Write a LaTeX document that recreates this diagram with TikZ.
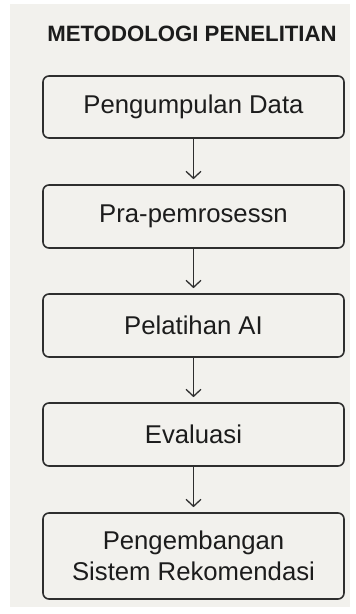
\documentclass[tikz,border=0pt]{standalone}
\usepackage{fontspec}
\setmainfont{Liberation Sans}
\usetikzlibrary{arrows.meta}
\definecolor{panel}{HTML}{F2F1ED}
\definecolor{ink}{HTML}{1C1C1C}
\definecolor{edge}{HTML}{2E2E2E}
\tikzset{
  stepbox/.style={draw=edge, line width=1.6pt, rounded corners=6pt, fill=panel,
    minimum width=301pt, text=ink, font=\fontsize{25.7}{31}\selectfont, align=center, inner sep=0pt},
  flow/.style={draw=edge, line width=1.3pt, -{Straight Barb[length=7pt,width=15pt,line width=1.3pt]}, shorten >=5pt}
}
\begin{document}
\begin{tikzpicture}[x=1pt,y=-1pt]
\useasboundingbox (0,0) rectangle (356,614);
\fill[white] (0,0) rectangle (356,614);
\fill[panel] (10,4) rectangle (350,607);
\node[font=\fontsize{22.2}{26}\selectfont\bfseries, text=ink] (title) at (192,34) {METODOLOGI PENELITIAN};
\node[stepbox, minimum height=62pt] (s1) at (193.5,107) {Pengumpulan Data};
\node[stepbox, minimum height=63pt] (s2) at (193.5,216.5) {Pra-pemrosessn};
\node[stepbox, minimum height=63pt] (s3) at (193.5,325.5) {Pelatihan AI};
\node[stepbox, minimum height=63pt] (s4) at (193.5,434.5) {Evaluasi};
\node[stepbox, minimum height=86pt] (s5) at (193.5,556) {Pengembangan\\Sistem Rekomendasi};
\draw[flow] (s1) -- (s2);
\draw[flow] (s2) -- (s3);
\draw[flow] (s3) -- (s4);
\draw[flow] (s4) -- (s5);
\end{tikzpicture}
\end{document}
